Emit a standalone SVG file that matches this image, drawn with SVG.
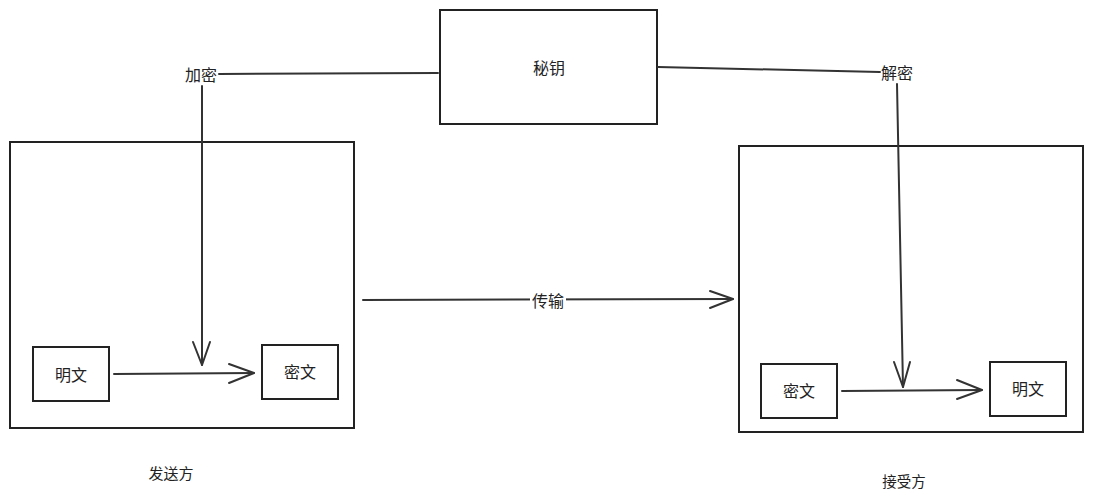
<svg xmlns="http://www.w3.org/2000/svg" width="1093" height="499" viewBox="0 0 1093 499">
<style>
.box{fill:#fff;stroke:#222;stroke-width:2}
.ln{fill:none;stroke:#333;stroke-width:2;stroke-linecap:round;stroke-linejoin:round}
.t{font-family:"Noto Sans CJK SC","Noto Sans",sans-serif;font-size:16px;fill:#222;text-anchor:middle;dominant-baseline:central}
.lbl{fill:#fff}
</style>
<rect width="1093" height="499" fill="#fff"/>
<g id="sender"><rect class="box" x="10" y="142" width="344" height="286"/><text class="t" x="171" y="472" style="font-size:15px">发送方</text></g>
<g id="receiver"><rect class="box" x="739" y="146" width="344" height="286"/><text class="t" x="904" y="480" style="font-size:14.5px">接受方</text></g>
<g id="key"><rect class="box" x="440" y="10" width="217" height="114"/><text class="t" x="549" y="67">秘钥</text></g>
<g id="s-plain"><rect class="box" x="33" y="347" width="76" height="54"/><text class="t" x="71" y="374">明文</text></g>
<g id="s-cipher"><rect class="box" x="262" y="345" width="76" height="54"/><text class="t" x="300" y="371">密文</text></g>
<g id="r-cipher"><rect class="box" x="761" y="364" width="76" height="54"/><text class="t" x="799" y="390">密文</text></g>
<g id="r-plain"><rect class="box" x="990" y="362" width="76" height="54"/><text class="t" x="1028" y="388">明文</text></g>
<g id="connectors">
<path class="ln" d="M114 374 L254 373"/>
<path class="ln" d="M229 364 L254 373 L229 383"/>
<path class="ln" d="M438 73 L219 74"/>
<path class="ln" d="M202 86 L202 365"/>
<path class="ln" d="M193 342 L202 365 L210 342"/>
<text class="t" x="201" y="74">加密</text>
<path class="ln" d="M658 67 L880 72"/>
<path class="ln" d="M897 84 L903 387"/>
<path class="ln" d="M894 362 L903 387 L910 362"/>
<text class="t" x="897" y="72">解密</text>
<path class="ln" d="M842 391 L982 390"/>
<path class="ln" d="M957 380 L982 390 L957 399"/>
<path class="ln" d="M363 300 L733 299"/>
<path class="ln" d="M710 291 L733 299 L710 308"/>
<rect class="lbl" x="530" y="290" width="36" height="20"/>
<text class="t" x="548" y="300">传输</text>
</g>
</svg>
